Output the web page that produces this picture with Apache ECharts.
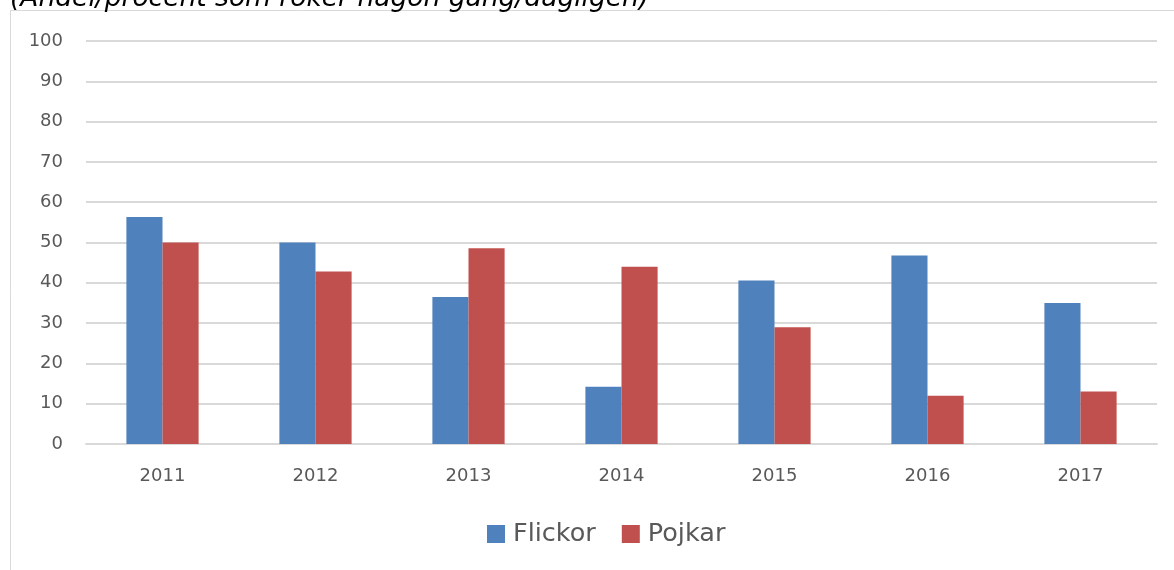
<!DOCTYPE html>
<html>
<head>
<meta charset="utf-8">
<script src="https://cdn.jsdelivr.net/npm/echarts@6/dist/echarts.min.js"></script>
<style>
  html, body { margin: 0; padding: 0; background: #fff; }
  #chart { width: 1174px; height: 570px; }
</style>
</head>
<body>
<div id="chart"></div>
<script>
const years = ['2011', '2012', '2013', '2014', '2015', '2016', '2017']
const flickor = [56.3, 50, 36.5, 14.2, 40.6, 46.8, 35]
const pojkar = [50, 42.8, 48.6, 44, 29, 12, 13]
const yTicks = { min: 0, max: 100, interval: 10 }

const font = '"DejaVu Sans", sans-serif'
let myChart = echarts.init(document.getElementById('chart'))
myChart.setOption({
  animation: false,
  title: {
    text: '(Andel/procent som röker någon gång/dagligen)',
    left: 5,
    top: -19,
    textStyle: { fontFamily: font, fontStyle: 'italic', fontWeight: 'normal', fontSize: 26.5, color: '#000' }
  },
  graphic: [{
    type: 'rect',
    shape: { x: 10.5, y: 10.5, width: 1200, height: 600 },
    style: { fill: 'none', stroke: '#d9d9d9', lineWidth: 1 },
    z: -1
  }],
  grid: { left: 86, right: 17, top: 41, bottom: 126, containLabel: false },
  legend: {
    top: 516,
    left: 482,
    itemWidth: 18,
    itemHeight: 18,
    itemGap: 26,
    icon: 'rect',
    textStyle: { fontFamily: font, fontSize: 25.5, color: '#595959', padding: [0, 0, 0, 3] },
    data: ['Flickor', 'Pojkar']
  },
  xAxis: {
    type: 'category',
    data: years,
    axisLine: { lineStyle: { color: '#d9d9d9', width: 2 } },
    axisTick: { show: false },
    axisLabel: { fontFamily: font, fontSize: 18, color: '#595959', margin: 23 }
  },
  yAxis: {
    type: 'value',
    min: yTicks.min,
    max: yTicks.max,
    interval: yTicks.interval,
    axisLine: { show: false },
    axisTick: { show: false },
    splitLine: { lineStyle: { color: '#d9d9d9', width: 2 } },
    axisLabel: { fontFamily: font, fontSize: 18, color: '#595959', margin: 23 }
  },
  series: [
    { name: 'Flickor', type: 'bar', data: flickor, barWidth: '23.6%', barGap: '0%',
      itemStyle: { color: '#4f81bd' } },
    { name: 'Pojkar', type: 'bar', data: pojkar, barWidth: '23.6%',
      itemStyle: { color: '#c0504d' } }
  ]
})
</script>
</body>
</html>
